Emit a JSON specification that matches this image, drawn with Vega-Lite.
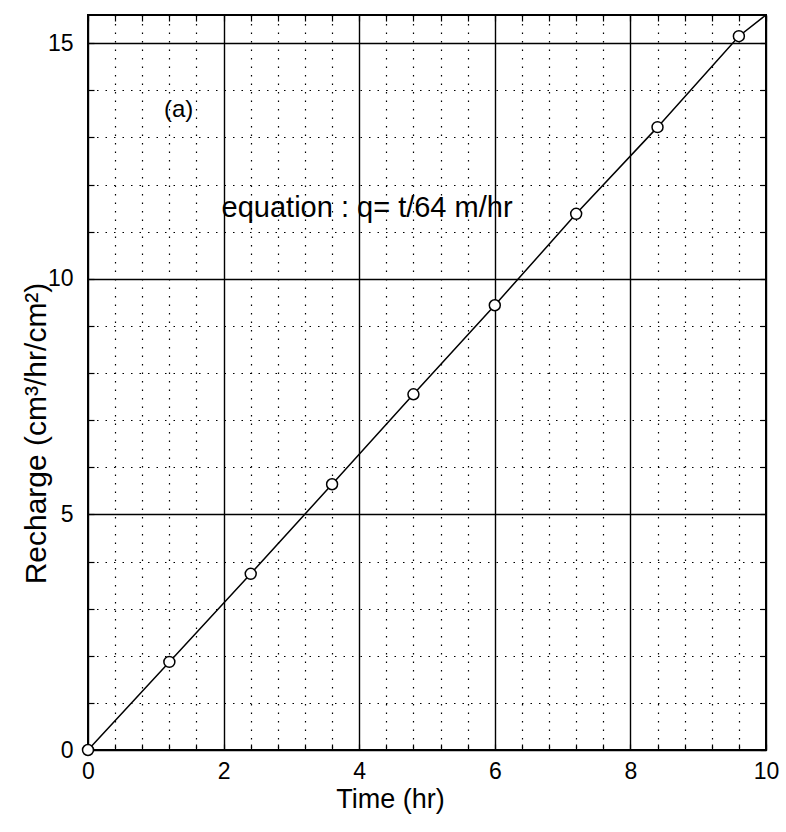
{
  "$schema": "https://vega.github.io/schema/vega-lite/v6.json",
  "width": 678,
  "height": 735,
  "autosize": {"type": "none"},
  "padding": {"left": 88, "top": 15, "right": 20, "bottom": 82},
  "background": "white",
  "config": {
    "font": "Liberation Sans",
    "view": {"stroke": "black", "strokeWidth": 2},
    "axis": {
      "domain": false,
      "labelColor": "black",
      "titleColor": "black",
      "tickColor": "black",
      "labelFont": "Liberation Sans",
      "titleFont": "Liberation Sans",
      "titleFontWeight": "normal"
    }
  },
  "datasets": {
    "obs": [
      {"t": 0, "q": 0},
      {"t": 1.2, "q": 1.87},
      {"t": 2.4, "q": 3.74},
      {"t": 3.6, "q": 5.64},
      {"t": 4.8, "q": 7.55},
      {"t": 6.0, "q": 9.44},
      {"t": 7.2, "q": 11.38},
      {"t": 8.4, "q": 13.22},
      {"t": 9.6, "q": 15.15}
    ],
    "curve": [
      {"t": 0, "q": 0},
      {"t": 1.2, "q": 1.87},
      {"t": 2.4, "q": 3.74},
      {"t": 3.6, "q": 5.64},
      {"t": 4.8, "q": 7.55},
      {"t": 6.0, "q": 9.44},
      {"t": 7.2, "q": 11.38},
      {"t": 8.4, "q": 13.22},
      {"t": 9.6, "q": 15.15},
      {"t": 10, "q": 15.6}
    ],
    "notes": [
      {"t": 1.12, "q": 13.58, "label": "(a)", "kind": "tag"},
      {"t": 1.97, "q": 11.5, "label": "equation : q= t/64 m/hr", "kind": "eq"}
    ]
  },
  "layer": [
    {
      "data": {"name": "curve"},
      "mark": {"type": "line", "color": "black", "strokeWidth": 1.5},
      "encoding": {
        "x": {
          "field": "t", "type": "quantitative",
          "scale": {"domain": [0, 10], "nice": false, "zero": false},
          "axis": {
            "orient": "bottom",
            "values": [0, 0.4, 0.8, 1.2, 1.6, 2, 2.4, 2.8, 3.2, 3.6, 4, 4.4, 4.8, 5.2, 5.6, 6, 6.4, 6.8, 7.2, 7.6, 8, 8.4, 8.8, 9.2, 9.6, 10],
            "labelExpr": "datum.value % 2 === 0 ? format(datum.value, 'd') : ''",
            "labelFlush": false,
            "labelOverlap": false,
            "labelFontSize": 23,
            "labelPadding": 16,
            "tickSize": -6,
            "tickWidth": 1.2,
            "grid": true,
            "gridColor": "black",
            "gridOpacity": 1,
            "gridWidth": {"condition": {"test": "datum.value % 2 === 0", "value": 1.4}, "value": 1.2},
            "gridDash": {"condition": {"test": "datum.value % 2 === 0", "value": []}, "value": [1.5, 7]},
            "title": "Time (hr)",
            "titleFontSize": 27,
            "titleX": 302,
            "titleY": 57,
            "titleAlign": "center",
            "titleBaseline": "alphabetic"
          }
        },
        "y": {
          "field": "q", "type": "quantitative",
          "scale": {"domain": [0, 15.6], "nice": false, "zero": false},
          "axis": {
            "orient": "left",
            "values": [0, 1, 2, 3, 4, 5, 6, 7, 8, 9, 10, 11, 12, 13, 14, 15],
            "labelExpr": "datum.value % 5 === 0 ? format(datum.value, 'd') : ''",
            "labelOverlap": false,
            "labelFlush": false,
            "labelFontSize": 23,
            "labelPadding": 21,
            "tickSize": -6,
            "tickWidth": 1.2,
            "grid": true,
            "gridColor": "black",
            "gridOpacity": 1,
            "gridWidth": {"condition": {"test": "datum.value % 5 === 0", "value": 1.4}, "value": 1.2},
            "gridDash": {"condition": {"test": "datum.value % 5 === 0", "value": []}, "value": [1.5, 7]},
            "title": "Recharge (cm³/hr/cm²)",
            "titleFontSize": 30,
            "titleAngle": -90,
            "titleX": -43,
            "titleY": 418,
            "titleAlign": "center",
            "titleBaseline": "alphabetic"
          }
        }
      }
    },
    {
      "data": {"name": "obs"},
      "mark": {"type": "point", "shape": "circle", "filled": true, "fill": "white", "stroke": "black", "strokeWidth": 1.5, "size": 120, "opacity": 1},
      "encoding": {
        "x": {
          "field": "t", "type": "quantitative",
          "axis": {
            "orient": "top",
            "values": [0, 0.4, 0.8, 1.2, 1.6, 2, 2.4, 2.8, 3.2, 3.6, 4, 4.4, 4.8, 5.2, 5.6, 6, 6.4, 6.8, 7.2, 7.6, 8, 8.4, 8.8, 9.2, 9.6, 10],
            "labels": false,
            "grid": false,
            "tickSize": -6,
            "tickWidth": 1.2,
            "title": null
          }
        },
        "y": {
          "field": "q", "type": "quantitative",
          "axis": {
            "orient": "right",
            "values": [0, 1, 2, 3, 4, 5, 6, 7, 8, 9, 10, 11, 12, 13, 14, 15],
            "labels": false,
            "grid": false,
            "tickSize": -6,
            "tickWidth": 1.2,
            "title": null
          }
        }
      }
    },
    {
      "data": {"name": "notes"},
      "mark": {"type": "text", "align": "left", "baseline": "middle", "color": "black", "font": "Liberation Sans"},
      "encoding": {
        "x": {"field": "t", "type": "quantitative", "axis": null},
        "y": {"field": "q", "type": "quantitative", "axis": null},
        "text": {"field": "label"},
        "size": {"field": "kind", "type": "nominal", "scale": {"domain": ["tag", "eq"], "range": [24, 29]}, "legend": null}
      }
    }
  ],
  "resolve": {"axis": {"x": "independent", "y": "independent"}}
}
